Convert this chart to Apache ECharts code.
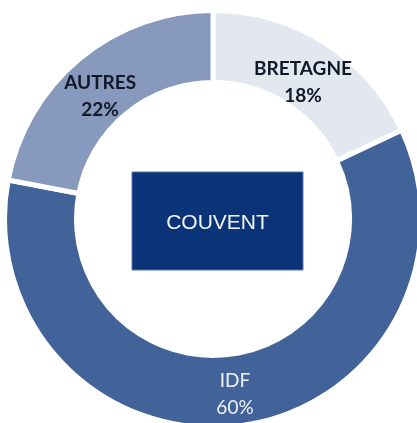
<!DOCTYPE html>
<html>
<head>
<meta charset="utf-8">
<script src="https://cdn.jsdelivr.net/npm/echarts@6/dist/echarts.min.js"></script>
<style>
html,body{margin:0;padding:0;background:#fff;}
#c{width:417px;height:423px;}
</style>
</head>
<body>
<div id="c"></div>
<script>
const categories = ['BRETAGNE', 'IDF', 'AUTRES'];
const values = [18, 60, 22];
const sliceColors = ['#E3E8F0', '#42639A', '#8799BD'];
const labelColors = ['#111827', '#EEF2F8', '#111827'];
const labelWeights = ['bold', 'normal', 'bold'];
const labelOffsets = [[-4, 12], [0, 1], [-1, 13]];
const centerText = 'COUVENT';

const chart = echarts.init(document.getElementById('c'), null, {renderer: 'canvas'});
chart.setOption({
  animation: false,
  backgroundColor: '#ffffff',
  series: [{
    type: 'pie',
    center: [213, 219],
    radius: [136.5, 208.5],
    startAngle: 90,
    clockwise: true,
    silent: true,
    itemStyle: {borderColor: '#ffffff', borderWidth: 5},
    label: {
      position: 'inside',
      formatter: p => p.name + '\n' + p.value + '%',
      fontFamily: 'Lato',
      fontSize: 19,
      lineHeight: 27,
      align: 'center'
    },
    labelLine: {show: false},
    data: categories.map((n, i) => ({
      name: n,
      value: values[i],
      itemStyle: {color: sliceColors[i]},
      label: {color: labelColors[i], fontWeight: labelWeights[i], offset: labelOffsets[i]}
    }))
  }],
  graphic: [{
    type: 'rect',
    shape: {x: 132, y: 172, width: 171, height: 98},
    style: {fill: '#0B3377', stroke: '#5C77A8', lineWidth: 1}
  }, {
    type: 'text',
    x: 217.5,
    y: 223,
    style: {
      text: centerText,
      fill: '#F2F5FA',
      font: '21px "Liberation Sans", Arial, sans-serif',
      textAlign: 'center',
      textVerticalAlign: 'middle'
    }
  }]
});
</script>
</body>
</html>
